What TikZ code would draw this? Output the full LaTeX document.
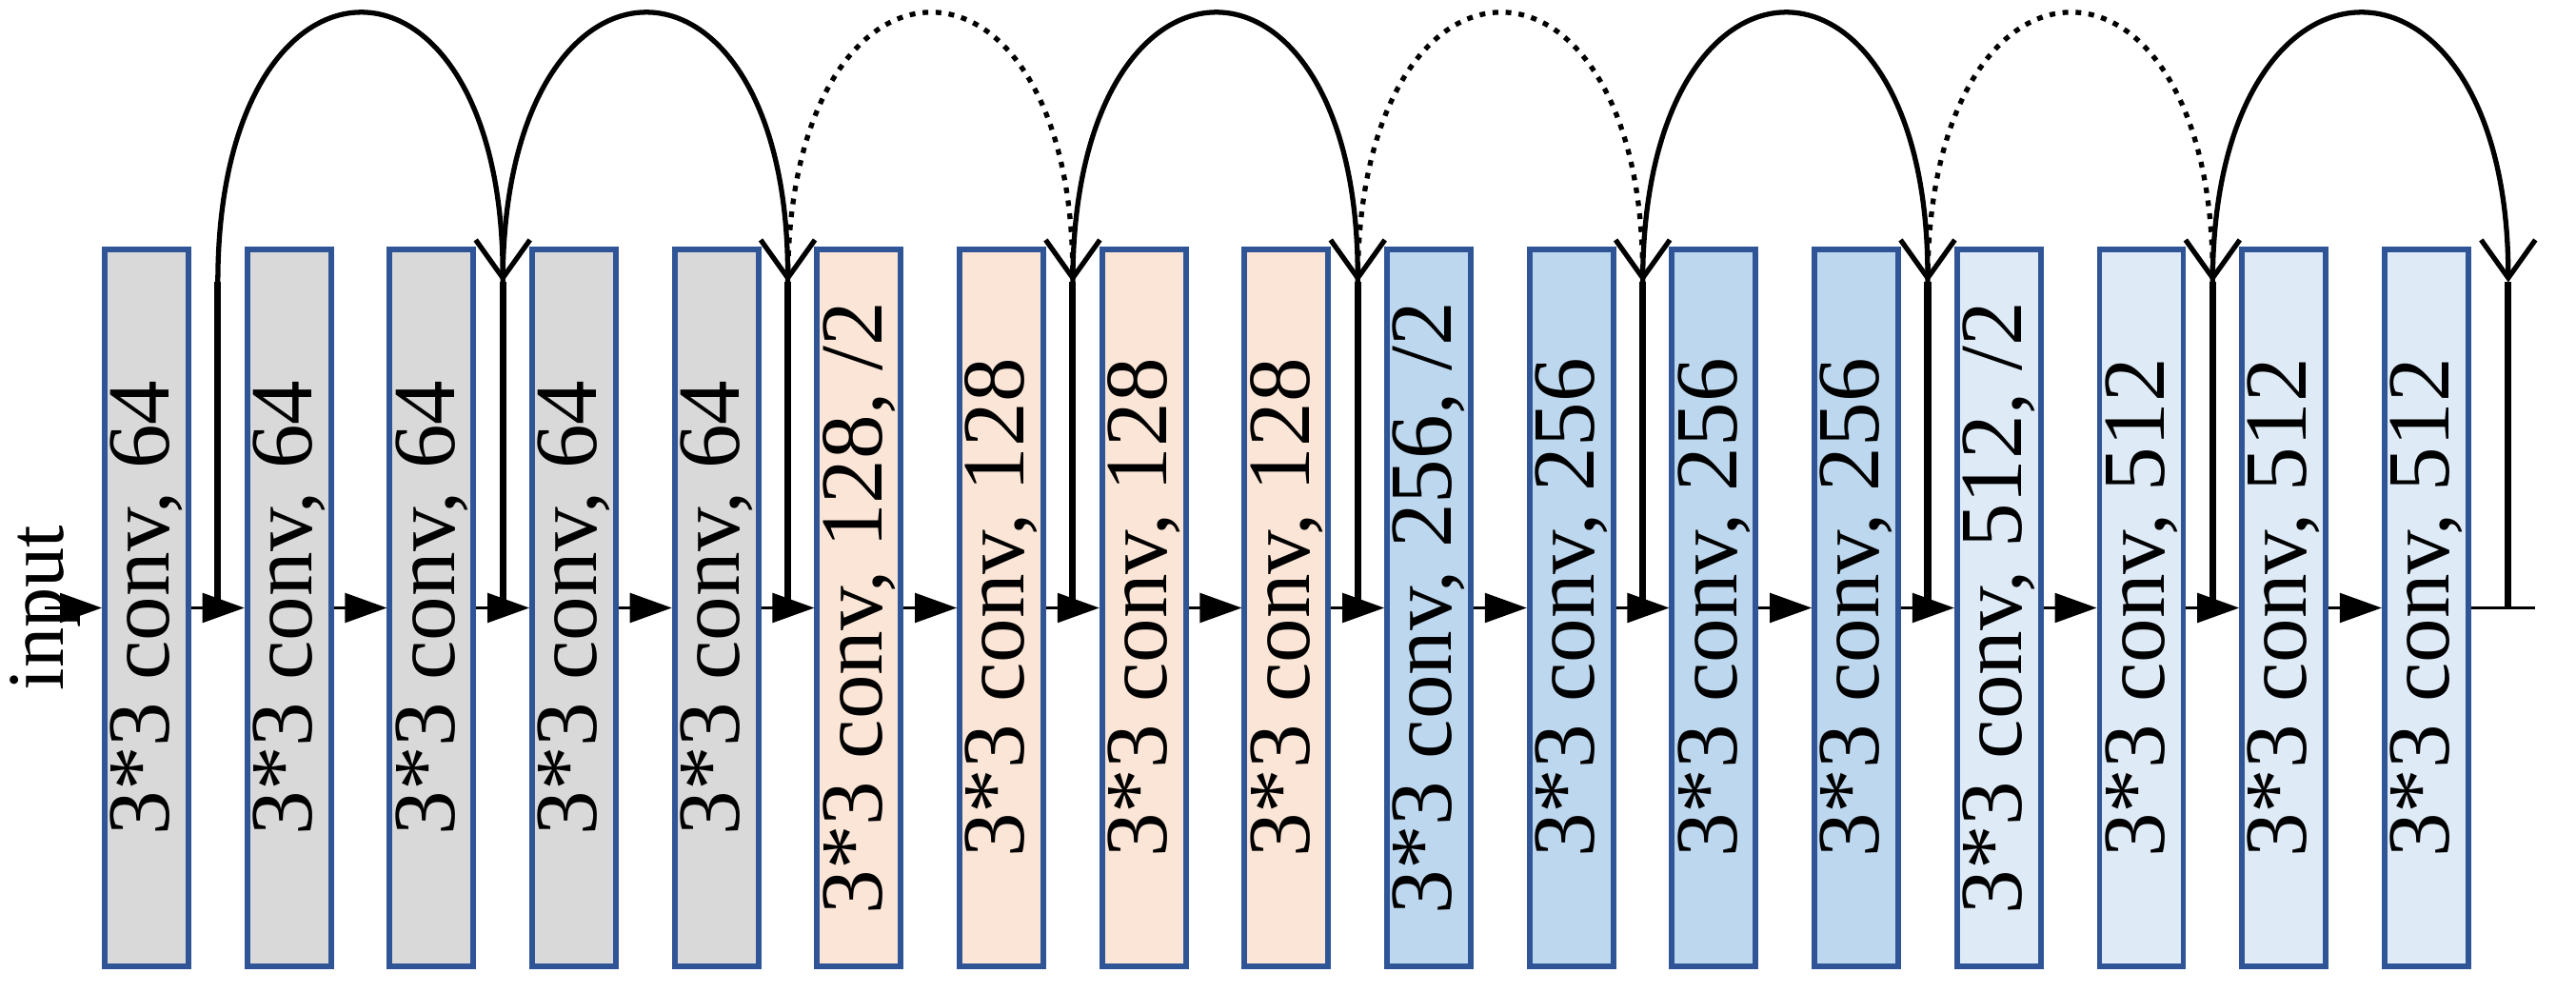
\documentclass[tikz,border=0pt]{standalone}
\usepackage{graphicx}
\usepackage{fontspec}
\setmainfont{Liberation Serif}
\usetikzlibrary{arrows.meta, positioning, calc}

\definecolor{convblue}{RGB}{47,85,151}
\definecolor{gray64}{RGB}{217,217,217}
\definecolor{peach128}{RGB}{251,229,214}
\definecolor{blue256}{RGB}{189,215,238}
\definecolor{pale512}{RGB}{222,235,247}

\begin{document}
\begin{tikzpicture}[
      node distance=0.557cm,
      conv/.style={rectangle, draw=convblue, line width=1.7pt, minimum width=0.88cm, minimum height=7.53cm, inner sep=0pt, font=\fontsize{26.5}{30}\selectfont},
      c64/.style={conv, fill=gray64},
      c128/.style={conv, fill=peach128},
      c256/.style={conv, fill=blue256},
      c512/.style={conv, fill=pale512},
      inlabel/.style={inner sep=0pt, font=\fontsize{24}{28}\selectfont},
      arrow/.style={-{Triangle[length=0.44cm, width=0.31cm]}, line width=0.7pt},
      skip/.style={-{Straight Barb[length=0.4cm, width=0.57cm]}, line width=1.5pt},
      dotskip/.style={skip, dash pattern=on 1.7pt off 2.2pt},
      shortcut/.style={line width=2pt}
    ]
    \useasboundingbox (0,0) rectangle (27.06,10.42);

    % conv stack
    \node[c64] (b1) at (1.54,4.035) {\rotatebox{90}{3*3 conv, 64}};
    \node[c64, right=of b1] (b2) {\rotatebox{90}{3*3 conv, 64}};
    \node[c64, right=of b2] (b3) {\rotatebox{90}{3*3 conv, 64}};
    \node[c64, right=of b3] (b4) {\rotatebox{90}{3*3 conv, 64}};
    \node[c64, right=of b4] (b5) {\rotatebox{90}{3*3 conv, 64}};
    \node[c128, right=of b5] (b6) {\rotatebox{90}{3*3 conv, 128, /2}};
    \node[c128, right=of b6] (b7) {\rotatebox{90}{3*3 conv, 128}};
    \node[c128, right=of b7] (b8) {\rotatebox{90}{3*3 conv, 128}};
    \node[c128, right=of b8] (b9) {\rotatebox{90}{3*3 conv, 128}};
    \node[c256, right=of b9] (b10) {\rotatebox{90}{3*3 conv, 256, /2}};
    \node[c256, right=of b10] (b11) {\rotatebox{90}{3*3 conv, 256}};
    \node[c256, right=of b11] (b12) {\rotatebox{90}{3*3 conv, 256}};
    \node[c256, right=of b12] (b13) {\rotatebox{90}{3*3 conv, 256}};
    \node[c512, right=of b13] (b14) {\rotatebox{90}{3*3 conv, 512, /2}};
    \node[c512, right=of b14] (b15) {\rotatebox{90}{3*3 conv, 512}};
    \node[c512, right=of b15] (b16) {\rotatebox{90}{3*3 conv, 512}};
    \node[c512, right=of b16] (b17) {\rotatebox{90}{3*3 conv, 512}};

    \node[inlabel, left=0.22cm of b1] (in) {\rotatebox{90}{input}};
    \coordinate[right=0.67cm of b17] (out);

    % main path
    \draw[arrow] (in.center) -- (b1);
    \draw[arrow] (b1) -- (b2);
    \draw[arrow] (b2) -- (b3);
    \draw[arrow] (b3) -- (b4);
    \draw[arrow] (b4) -- (b5);
    \draw[arrow] (b5) -- (b6);
    \draw[arrow] (b6) -- (b7);
    \draw[arrow] (b7) -- (b8);
    \draw[arrow] (b8) -- (b9);
    \draw[arrow] (b9) -- (b10);
    \draw[arrow] (b10) -- (b11);
    \draw[arrow] (b11) -- (b12);
    \draw[arrow] (b12) -- (b13);
    \draw[arrow] (b13) -- (b14);
    \draw[arrow] (b14) -- (b15);
    \draw[arrow] (b15) -- (b16);
    \draw[arrow] (b16) -- (b17);
    \draw[line width=0.7pt] (b17) -- (out);

    % shortcut taps
    \coordinate (g1) at ($(b1.east)!0.5!(b2.west)$);
    \coordinate (g3) at ($(b3.east)!0.5!(b4.west)$);
    \coordinate (g5) at ($(b5.east)!0.5!(b6.west)$);
    \coordinate (g7) at ($(b7.east)!0.5!(b8.west)$);
    \coordinate (g9) at ($(b9.east)!0.5!(b10.west)$);
    \coordinate (g11) at ($(b11.east)!0.5!(b12.west)$);
    \coordinate (g13) at ($(b13.east)!0.5!(b14.west)$);
    \coordinate (g15) at ($(b15.east)!0.5!(b16.west)$);
    \coordinate[right=0.39cm of b17] (g17);

    \coordinate[above=3.42cm of g1] (t1);
    \coordinate[above=3.42cm of g3] (t3);
    \coordinate[above=3.42cm of g5] (t5);
    \coordinate[above=3.42cm of g7] (t7);
    \coordinate[above=3.42cm of g9] (t9);
    \coordinate[above=3.42cm of g11] (t11);
    \coordinate[above=3.42cm of g13] (t13);
    \coordinate[above=3.42cm of g15] (t15);
    \coordinate[above=3.42cm of g17] (t17);

    \draw[shortcut] (g1) -- (t1);
    \draw[shortcut] (g3) -- (t3);
    \draw[shortcut] (g5) -- (t5);
    \draw[shortcut] (g7) -- (t7);
    \draw[shortcut] (g9) -- (t9);
    \draw[shortcut] (g11) -- (t11);
    \draw[shortcut] (g13) -- (t13);
    \draw[shortcut] (g15) -- (t15);
    \draw[shortcut] (g17) -- (t17);

    % skip arcs
    \draw[skip] (t1) .. controls +(0,3.77) and +(0,3.77) .. (t3);
    \draw[skip] (t3) .. controls +(0,3.77) and +(0,3.77) .. (t5);
    \draw[dotskip] (t5) .. controls +(0,3.77) and +(0,3.77) .. (t7);
    \draw[skip] (t7) .. controls +(0,3.77) and +(0,3.77) .. (t9);
    \draw[dotskip] (t9) .. controls +(0,3.77) and +(0,3.77) .. (t11);
    \draw[skip] (t11) .. controls +(0,3.77) and +(0,3.77) .. (t13);
    \draw[dotskip] (t13) .. controls +(0,3.77) and +(0,3.77) .. (t15);
    \draw[skip] (t15) .. controls +(0,3.77) and +(0,3.77) .. (t17);
  \end{tikzpicture}
\end{document}
